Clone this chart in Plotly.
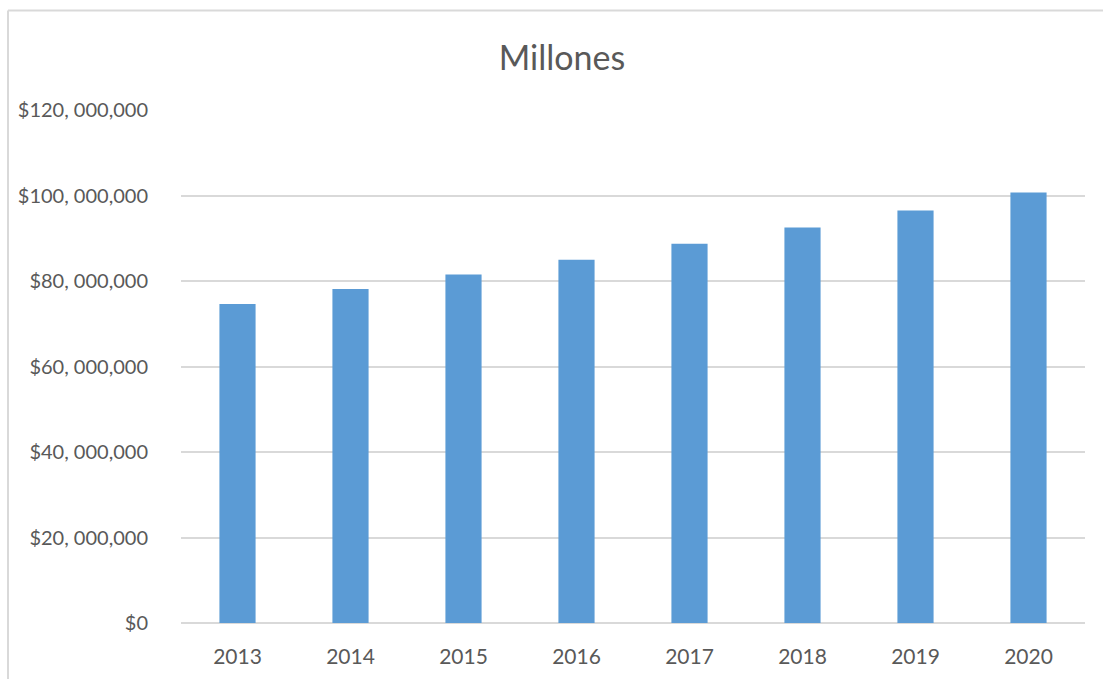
import plotly.graph_objects as go

# Annual amounts (pesos)
years = ["2013", "2014", "2015", "2016", "2017", "2018", "2019", "2020"]
amounts = [74_600_000, 78_100_000, 81_500_000, 85_000_000,
           88_700_000, 92_500_000, 96_500_000, 100_700_000]

y_ticks = [0, 20_000_000, 40_000_000, 60_000_000, 80_000_000, 100_000_000, 120_000_000]
y_tick_text = ["$0", "$20, 000,000", "$40, 000,000", "$60, 000,000",
               "$80, 000,000", "$100, 000,000", "$120, 000,000"]

FONT = "Lato, 'Open Sans', sans-serif"
TEXT = "#595959"
GRID = "#D9D9D9"

fig = go.Figure(
    go.Bar(
        x=years,
        y=amounts,
        marker=dict(color="#5B9BD5", line=dict(width=0)),
        hoverinfo="x+y",
    )
)

L, R, T, B = 181, 18, 110, 56
W, H = 1103, 679
pw, ph = W - L - R, H - T - B

fig.update_layout(
    width=W,
    height=H,
    margin=dict(l=L, r=R, t=T, b=B),
    paper_bgcolor="white",
    plot_bgcolor="white",
    bargap=0.68,
    showlegend=False,
    title=dict(
        text="Millones",
        x=562 / W,
        xanchor="center",
        y=1 - 58 / H,
        yanchor="middle",
        font=dict(family=FONT, size=34, color=TEXT),
    ),
    font=dict(family=FONT, color=TEXT),
    xaxis=dict(
        showgrid=False,
        showline=False,
        zeroline=False,
        ticks="",
        tickfont=dict(family=FONT, size=21, color=TEXT),
        ticklabelstandoff=19,
    ),
    yaxis=dict(
        range=[0, 120_000_000],
        tickvals=y_ticks,
        ticktext=y_tick_text,
        showgrid=True,
        gridcolor=GRID,
        gridwidth=2,
        zeroline=True,
        zerolinecolor=GRID,
        zerolinewidth=2,
        showline=False,
        ticks="",
        tickfont=dict(family=FONT, size=20, color=TEXT),
        ticklabelstandoff=32,
    ),
    shapes=[
        # chart frame: left and top edges
        dict(type="line", xref="paper", yref="paper",
             x0=(8 - L) / pw, x1=(8 - L) / pw,
             y0=(T + ph - H) / ph, y1=1 + (T - 10.5) / ph,
             line=dict(color=GRID, width=2)),
        dict(type="line", xref="paper", yref="paper",
             x0=(8 - L) / pw, x1=(W - L) / pw,
             y0=1 + (T - 10.5) / ph, y1=1 + (T - 10.5) / ph,
             line=dict(color=GRID, width=2)),
    ],
)

fig.write_html("out.html")
